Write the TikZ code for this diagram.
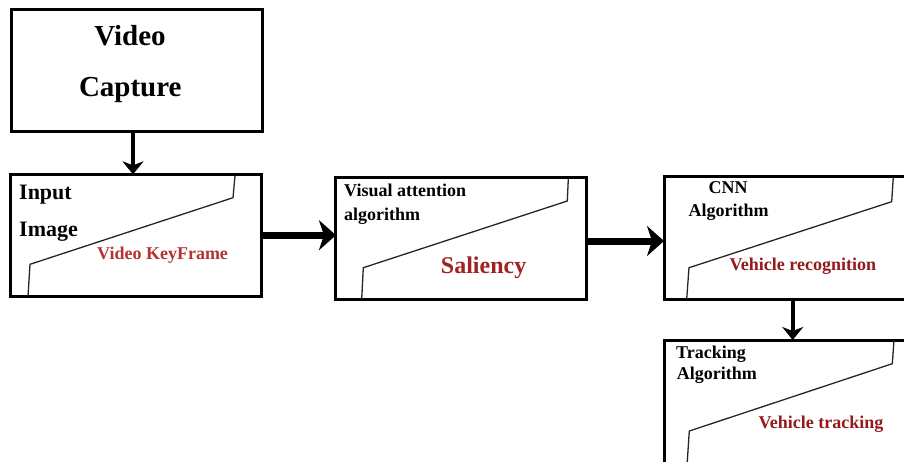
\documentclass[tikz,border=0pt]{standalone}
\usepackage{fontspec}
\setmainfont{Liberation Serif}
\usetikzlibrary{arrows.meta}
\definecolor{capA}{RGB}{178,52,52}
\definecolor{capB}{RGB}{160,34,34}
\definecolor{capC}{RGB}{150,26,26}
\begin{document}
\begin{tikzpicture}[x=1pt,y=-1pt,
  box/.style={draw, line width=3pt, inner sep=0pt, outer sep=0pt},
  fold/.style={draw=black!85, line width=1.3pt},
  lbl/.style={font=\bfseries\fontsize{18}{20}\selectfont, inner sep=0pt, anchor=base west},
  biglbl/.style={font=\bfseries\fontsize{22}{24}\selectfont, inner sep=0pt, anchor=base west},
  titlelbl/.style={font=\bfseries\fontsize{29}{32}\selectfont, inner sep=0pt, anchor=base},
  harr/.style={line width=7pt, -{Stealth[length=17pt,width=30pt,inset=5pt]}},
  varr/.style={line width=4pt, -{Stealth[length=13pt,width=21pt,inset=4pt]}}]
\clip (0,0) rectangle (904,461);
\fill[white] (0,0) rectangle (904,461);

% boxes
\node[box, minimum width=251pt, minimum height=122pt] (vc) at (136.5,70) {};
\node[box, minimum width=250.3pt, minimum height=121.7pt] (inp) at (135.9,235.2) {};
\node[box, minimum width=250.7pt, minimum height=121.6pt] (vis) at (461.3,238.5) {};
\node[box, minimum width=256pt, minimum height=122.3pt] (cnn) at (792,237.9) {};
\node[box, minimum width=256pt, minimum height=140pt] (trk) at (792,410) {};

% slanted page outlines inside the boxes
\draw[fold] (28,296) -- (30,264.3) -- (233,197.7) -- (235,175.7);
\draw[fold] (361.7,299) -- (363.3,267.7) -- (567.3,201) -- (568.3,179);
\draw[fold] (686.7,299) -- (689,267.7) -- (891.7,201.7) -- (893.3,177);
\draw[fold] (686.7,470) -- (689.3,431) -- (892.3,363.7) -- (894,340);

% labels
\node[titlelbl] (t1) at (130,45) {Video};
\node[titlelbl] (t2) at (130.3,96.7) {Capture};

\node[biglbl] (l1) at (19,199) {Input};
\node[biglbl] (l2) at (19,236) {Image};
\node[lbl, text=capA] (l3) at (97,259.3) {Video KeyFrame};

\node[lbl] (l4) at (344,196.7) {Visual attention};
\node[lbl] (l5) at (344,220) {algorithm};
\node[font=\bfseries\fontsize{24}{26}\selectfont, inner sep=0pt, anchor=base west, text=capB] (l6) at (440.7,273.3) {Saliency};

\node[lbl, anchor=base] (l7) at (728,193.3) {CNN};
\node[lbl] (l8) at (688.3,216.7) {Algorithm};
\node[lbl, text=capC] (l9) at (729.3,270) {Vehicle recognition};

\node[lbl] (l10) at (676,358.3) {Tracking};
\node[lbl] (l11) at (676.7,379.3) {Algorithm};
\node[lbl, text=capC] (l12) at (758.3,428.3) {Vehicle tracking};

% connectors
\coordinate (xa) at (133,0);
\coordinate (xb) at (792.7,0);
\coordinate (ya) at (0,241);
\draw[varr] (vc.south -| xa) -- (inp.north -| xa);
\draw[harr] (inp.east) -- (vis.west |- inp.east);
\draw[harr] (vis.east |- ya) -- (cnn.west |- ya);
\draw[varr] (cnn.south -| xb) -- (trk.north -| xb);
\end{tikzpicture}
\end{document}
